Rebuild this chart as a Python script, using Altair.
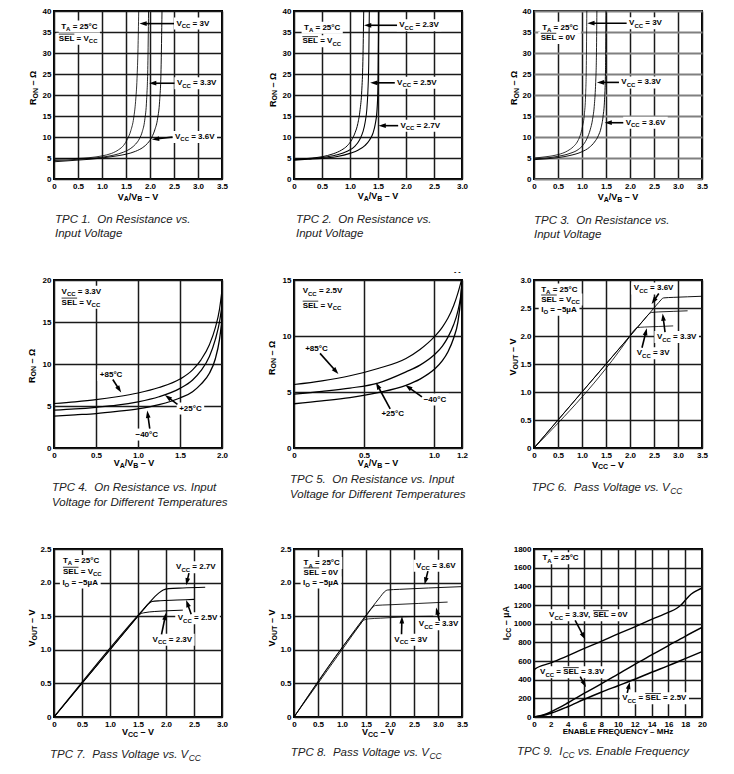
import math
import altair as alt
import pandas as pd

FONT = "Liberation Sans"
PW = 168
PH = 168
THIN, MED, THICK = 0.8, 1.5, 2.3

# ---------------- TPC 1 : R_ON vs V_A/V_B ----------------
tpc1_x_3v0 = [0, 0.25, 0.5, 0.75, 1.0, 1.2, 1.35, 1.45, 1.53, 1.6, 1.66, 1.7, 1.73, 1.75, 1.765]
tpc1_r_3v0 = [4.7, 4.8, 4.9, 5.1, 5.5, 6.1, 7.0, 8.0, 9.5, 11.5, 14.5, 18.5, 24, 31, 40]
tpc1_x_3v3 = [0, 0.25, 0.5, 0.75, 1.0, 1.25, 1.45, 1.6, 1.7, 1.78, 1.84, 1.89, 1.93, 1.955, 1.97]
tpc1_r_3v3 = [4.4, 4.5, 4.7, 4.9, 5.2, 5.7, 6.4, 7.3, 8.3, 9.6, 11.3, 14, 19, 27, 40]
tpc1_x_3v6 = [0, 0.25, 0.5, 0.75, 1.0, 1.25, 1.5, 1.7, 1.85, 1.95, 2.04, 2.1, 2.16, 2.2, 2.23, 2.25]
tpc1_r_3v6 = [4.1, 4.3, 4.5, 4.7, 5.0, 5.4, 5.9, 6.6, 7.5, 8.5, 10, 11.7, 14.5, 18.5, 26, 40]

# ---------------- TPC 2 ----------------
tpc2_x_2v3 = [0, 0.25, 0.5, 0.7, 0.85, 0.95, 1.03, 1.09, 1.14, 1.18, 1.21, 1.23, 1.245]
tpc2_r_2v3 = [4.7, 4.9, 5.3, 6.0, 6.9, 7.9, 9.3, 11, 13.2, 16.5, 21, 28, 40]
tpc2_x_2v5 = [0, 0.25, 0.5, 0.75, 0.95, 1.08, 1.17, 1.23, 1.27, 1.3, 1.32, 1.335, 1.345]
tpc2_r_2v5 = [4.6, 4.8, 5.1, 5.7, 6.6, 7.7, 9.3, 11.2, 13.5, 16.5, 21, 28, 40]
tpc2_x_2v7 = [0, 0.25, 0.5, 0.75, 1.0, 1.15, 1.27, 1.35, 1.41, 1.45, 1.48, 1.5, 1.515]
tpc2_r_2v7 = [4.5, 4.7, 4.9, 5.3, 6.1, 6.9, 8.0, 9.3, 10.9, 13, 16, 22, 40]

# ---------------- TPC 3 ----------------
tpc3_x_3v0 = [0, 0.25, 0.5, 0.7, 0.82, 0.9, 0.96, 1.01, 1.05, 1.075, 1.09, 1.1]
tpc3_r_3v0 = [5.0, 5.3, 5.8, 6.7, 7.7, 8.8, 10.3, 12.5, 15.5, 20, 27, 40]
tpc3_x_3v3 = [0, 0.25, 0.5, 0.75, 0.92, 1.03, 1.11, 1.17, 1.22, 1.26, 1.285, 1.3, 1.31]
tpc3_r_3v3 = [4.8, 5.0, 5.4, 6.1, 7.0, 8.2, 9.8, 11.7, 14.2, 18, 23, 29, 40]
tpc3_x_3v6 = [0, 0.25, 0.5, 0.75, 1.0, 1.15, 1.26, 1.34, 1.4, 1.44, 1.47, 1.49, 1.5]
tpc3_r_3v6 = [4.6, 4.8, 5.1, 5.6, 6.5, 7.5, 8.8, 10.3, 12.3, 15, 19, 26, 40]

# ---------------- TPC 4 : temperatures, VCC = 3.3V ----------------
tpc4_x = [0, 0.25, 0.5, 0.75, 1.0, 1.25, 1.5, 1.65, 1.75, 1.85, 1.92, 1.97, 2.0]
tpc4_r_p85 = [5.3, 5.5, 5.75, 6.1, 6.55, 7.2, 8.2, 9.3, 10.5, 12.3, 14.3, 16.5, 18.8]
tpc4_r_p25 = [4.5, 4.65, 4.85, 5.1, 5.5, 6.1, 7.1, 8.1, 9.2, 10.9, 12.9, 15.0, 17.0]
tpc4_r_m40 = [3.8, 3.95, 4.1, 4.35, 4.65, 5.15, 5.95, 6.7, 7.6, 8.9, 10.6, 12.9, 15.3]

# ---------------- TPC 5 : temperatures, VCC = 2.5V ----------------
tpc5_x = [0, 0.2, 0.4, 0.6, 0.8, 0.9, 1.0, 1.06, 1.1, 1.14, 1.17, 1.19, 1.2]
tpc5_r_p85 = [5.67, 6.0, 6.45, 7.1, 8.0, 8.8, 9.9, 10.8, 11.6, 12.7, 13.8, 14.7, 15.2]
tpc5_r_p25 = [4.8, 5.05, 5.35, 5.8, 6.8, 7.4, 8.3, 9.1, 9.9, 11.0, 12.2, 13.5, 14.6]
tpc5_r_m40 = [3.95, 4.2, 4.5, 4.95, 5.6, 6.15, 7.0, 7.8, 8.6, 9.8, 11.2, 13.2, 15.0]

# ---------------- TPC 6 : pass voltage, SEL = VCC ----------------
tpc6_x_3v0 = [0, 2.0, 2.08, 2.15, 2.3, 2.6, 2.9]
tpc6_v_3v0 = [0, 2.0, 2.1, 2.15, 2.16, 2.17, 2.18]
tpc6_x_3v3 = [0, 2.3, 2.38, 2.45, 2.6, 2.9, 3.2]
tpc6_v_3v3 = [0, 2.3, 2.38, 2.42, 2.43, 2.44, 2.45]
tpc6_x_3v6 = [0, 2.5, 2.6, 2.7, 2.9, 3.2, 3.5]
tpc6_v_3v6 = [0, 2.5, 2.6, 2.68, 2.69, 2.70, 2.71]

# ---------------- TPC 7 ----------------
tpc7_x_2v3 = [0, 1.45, 1.52, 1.6, 1.8, 2.0, 2.3]
tpc7_v_2v3 = [0, 1.45, 1.52, 1.55, 1.57, 1.58, 1.59]
tpc7_x_2v5 = [0, 1.6, 1.68, 1.75, 1.9, 2.2, 2.5]
tpc7_v_2v5 = [0, 1.6, 1.68, 1.72, 1.73, 1.74, 1.75]
tpc7_x_2v7 = [0, 1.7, 1.8, 1.88, 1.95, 2.05, 2.3, 2.7]
tpc7_v_2v7 = [0, 1.7, 1.79, 1.85, 1.89, 1.91, 1.92, 1.93]

# ---------------- TPC 8 ----------------
tpc8_x_3v0 = [0, 1.38, 1.45, 1.55, 1.8, 2.3, 2.9]
tpc8_v_3v0 = [0, 1.38, 1.44, 1.46, 1.47, 1.49, 1.50]
tpc8_x_3v3 = [0, 1.52, 1.6, 1.7, 2.0, 2.6, 3.2]
tpc8_v_3v3 = [0, 1.52, 1.6, 1.66, 1.67, 1.69, 1.71]
tpc8_x_3v6 = [0, 1.7, 1.8, 1.88, 1.95, 2.2, 2.8, 3.5]
tpc8_v_3v6 = [0, 1.7, 1.79, 1.86, 1.89, 1.9, 1.92, 1.94]

# ---------------- TPC 9 : ICC vs enable frequency ----------------
tpc9_f_sel0 = [0, 0.06, 2, 4, 6, 8, 10, 12, 14, 16, 17, 17.5, 18, 18.5, 19, 19.5, 20]
tpc9_i_sel0 = [80, 510, 580, 655, 735, 810, 890, 965, 1045, 1120, 1165, 1200, 1250, 1300, 1335, 1360, 1380]
tpc9_f_33 = [0, 1, 2, 3, 4, 6, 8, 10, 12, 14, 16, 18, 20]
tpc9_i_33 = [0, 20, 55, 100, 150, 255, 355, 460, 565, 665, 765, 865, 960]
tpc9_f_25 = [0, 1, 2, 4, 6, 8, 10, 12, 14, 16, 18, 20]
tpc9_i_25 = [0, 15, 40, 110, 190, 265, 335, 405, 480, 550, 625, 700]

# ---------------- tick values ----------------
ticks_0_35 = [0, 0.5, 1.0, 1.5, 2.0, 2.5, 3.0, 3.5]
ticks_0_30 = [0, 0.5, 1.0, 1.5, 2.0, 2.5, 3.0]
ticks_0_20 = [0, 0.5, 1.0, 1.5, 2.0]
ticks_0_12 = [0, 0.5, 1.0, 1.2]
ticks_r40 = [0, 5, 10, 15, 20, 25, 30, 35, 40]
ticks_r20 = [0, 5, 10, 15, 20]
ticks_r15 = [0, 5, 10, 15]
ticks_v30 = [0, 0.5, 1.0, 1.5, 2.0, 2.5, 3.0]
ticks_v25 = [0, 0.5, 1.0, 1.5, 2.0, 2.5]
ticks_f = [0, 2, 4, 6, 8, 10, 12, 14, 16, 18, 20]
ticks_i = [0, 200, 400, 600, 800, 1000, 1200, 1400, 1600, 1800]

# ---------------- font metrics (Arial-compatible, per 1000 em) ----------------
BW = {' ': 278, '+': 584, ',': 278, '-': 333, '.': 278, '/': 278, '=': 584,
      '°': 400, '–': 556, '−': 584, 'µ': 611, 'Ω': 768, 'A': 722, 'B': 722, 'C': 722,
      'D': 722, 'E': 667, 'F': 611, 'G': 778, 'H': 722, 'I': 278, 'K': 722, 'L': 611,
      'M': 833, 'N': 722, 'O': 778, 'P': 667, 'Q': 778, 'R': 722, 'S': 667, 'T': 611,
      'U': 722, 'V': 667, 'Y': 667, 'Z': 611, 'z': 500}
RW = {' ': 278, '.': 278, 'T': 611, 'P': 667, 'C': 722, 'O': 778, 'R': 722,
      'I': 278, 'V': 667, 'D': 722, 'E': 667, 'F': 611, 'n': 556, 'e': 556, 's': 500,
      'i': 222, 't': 278, 'a': 556, 'c': 500, 'v': 500, 'p': 556, 'u': 556, 'o': 556,
      'l': 222, 'g': 556, 'f': 278, 'r': 333, 'm': 833, 'b': 556, 'q': 556, 'y': 500}


def tw(s, size, table):
    return sum(table.get(c, 556) for c in s) * size / 1000.0


def rich(ax, ay, segs, size, sub, table, sx, sy, align="left", dx0=0.0, dy0=0.0, angle=0):
    """Lay out a run of text segments (normal / subscript / overlined).
    Leading/trailing blanks are not drawn but advance the pen.
    Pixel offsets are turned into data offsets (sx, sy = data units per pixel)."""
    shift = size * 0.3
    ws = [tw(t, sub if k == "s" else size, table) for t, k in segs]
    total = sum(ws)
    start = -total / 2.0 if align == "center" else 0.0
    rows, overs = [], []
    off = start
    for (t, k), w in zip(segs, ws):
        fs = sub if k == "s" else size
        sh = shift if k == "s" else 0.0
        lead = len(t) - len(t.lstrip(" "))
        pen = off + tw(" " * lead, fs, table)
        if angle == 0:
            dx, dy = dx0 + pen, dy0 + sh
        else:
            dx, dy = dx0 + sh, dy0 - pen
        rows.append(dict(x=ax + dx * sx, y=ay - dy * sy, fs=fs, ang=angle, t=t.strip(" ")))
        if k == "o":
            overs.append((off, off + w))
        off += w
    return rows, overs, (start, start + total)


def vcc(v):
    return [("V", "n"), ("CC", "s"), (" = " + v, "n")]


TA = [("T", "n"), ("A", "s"), (" = 25°C", "n")]
SEL_VCC = [("SEL", "o"), (" = V", "n"), ("CC", "s")]
SEL_0V = [("SEL", "o"), (" = 0V", "n")]
IO = [("I", "n"), ("O", "s"), (" = −5µA", "n")]
VCC33 = [("V", "n"), ("CC", "s"), (" = 3.3V", "n")]
VCC25 = [("V", "n"), ("CC", "s"), (" = 2.5V", "n")]
RON = [("R", "n"), ("ON", "s"), (" – Ω", "n")]
VOUT = [("V", "n"), ("OUT", "s"), (" – V", "n")]
ICC = [("I", "n"), ("CC", "s"), (" – µA", "n")]
VAVB = [("V", "n"), ("A", "s"), ("/V", "n"), ("B", "s"), (" – V", "n")]
VCCX = [("V", "n"), ("CC", "s"), (" – V", "n")]
FREQX = [("ENABLE FREQUENCY – MHz", "n")]

FMT1 = "datum.value == 0 ? '0' : format(datum.value, '.1f')"
FMTD = "format(datum.value, 'd')"


def panel(P):
    xmax, ymax = P["xmax"], P["ymax"]
    sx, sy = xmax / PW, ymax / PH
    xs = alt.Scale(domain=[0, xmax], nice=False, zero=False)
    ys = alt.Scale(domain=[0, ymax], nice=False, zero=False)
    common = dict(domain=False, ticks=False, title=None, labelFont=FONT, labelFontSize=8,
                  labelFontWeight="bold", labelColor="black", labelPadding=3,
                  labelOverlap=False, labelFlush=False, grid=True)
    xaxis = alt.Axis(values=P["xticks"], labelExpr=P["xfmt"], gridColor=P.get("vgc", "#1a1a1a"),
                     gridWidth=P.get("vgw", 1.5), **common)
    yaxis = alt.Axis(values=P["yticks"], labelExpr=P["yfmt"], gridColor=P.get("hgc", "#1a1a1a"),
                     gridWidth=P.get("hgw", 1.5), **common)

    def X(f):
        return alt.X(f, type="quantitative", scale=xs, axis=xaxis)

    def Y(f):
        return alt.Y(f, type="quantitative", scale=ys, axis=yaxis)

    rows, names, widths = [], [], []
    for name, xv, yv, w in P["series"]:
        names.append(name)
        widths.append(w)
        for i, (a, b) in enumerate(zip(xv, yv)):
            rows.append(dict(x=a, y=b, s=name, o=i))
    lines = alt.Chart(pd.DataFrame(rows)).mark_line(
        color="black", clip=True, interpolate="monotone"
    ).encode(
        x=X("x"), y=Y("y"), detail="s:N", order="o:Q",
        strokeWidth=alt.StrokeWidth("s:N", scale=alt.Scale(domain=names, range=widths), legend=None),
    )

    text_rows, over_rows, box_rows, cap_rows, title_rows = [], [], [], [], []
    for ax, ay, segs, align in P["notes"]:
        r, overs, (s, e) = rich(ax, ay, segs, 8, 6, BW, sx, sy, align)
        text_rows += r
        for o1, o2 in overs:
            over_rows.append(dict(x1=ax + o1 * sx, x2=ax + o2 * sx, y=ay + 4.6 * sy))
        box_rows.append(dict(x1=ax + (s - 2.5) * sx, x2=ax + (e + 2.5) * sx,
                             y1=ay - 6 * sy, y2=ay + 6 * sy))
    for ex in P.get("extra", []):
        text_rows.append(dict(x=xmax + ex[0] * sx, y=ymax - ex[1] * sy, fs=7, ang=0, t=ex[2]))
    r, _, _ = rich(0, ymax, P["ytitle"], 9, 7, BW, sx, sy, "center", P["ytx"], P["yty"], 270)
    title_rows += r
    r, _, _ = rich(0, 0, P["xtitle"], P.get("xts", 9), 7, BW, sx, sy, "center",
                   PW / 2 + P.get("xtoff", 0), P["xtdy"])
    title_rows += r
    for segs, cdx, cbase in P["caption"]:
        r, _, _ = rich(0, 0, segs, 11.5, 8.5, RW, sx, sy, "left", cdx, cbase - PH)
        cap_rows += r

    arr_rows = []
    for tx, ty, hx, hy in P["arrows"]:
        dxp = (hx - tx) / sx
        dyp = -(hy - ty) / sy
        L = math.hypot(dxp, dyp)
        ux, uy = dxp / L, dyp / L
        ang = math.degrees(math.atan2(dyp, dxp)) % 360
        arr_rows.append(dict(x=tx, y=ty, x2=hx - 4 * ux * sx, y2=hy + 4 * uy * sy,
                             hx=hx, hy=hy, ang=ang))

    boxes = alt.Chart(pd.DataFrame(box_rows)).mark_rect(color="white").encode(
        x=X("x1"), x2="x2", y=Y("y1"), y2="y2")
    overl = alt.Chart(pd.DataFrame(over_rows)).mark_rule(color="black", strokeWidth=0.8).encode(
        x=X("x1"), x2="x2", y=Y("y"))
    arr = pd.DataFrame(arr_rows)
    shafts = alt.Chart(arr).mark_rule(color="black", strokeWidth=1.6).encode(
        x=X("x"), y=Y("y"), x2="x2", y2="y2")
    heads = alt.Chart(arr).mark_point(
        shape="M0,0L-2.3,-0.75L-2.3,0.75Z", filled=True, size=40, color="black", opacity=1
    ).encode(x=X("hx"), y=Y("hy"), angle=alt.Angle("ang:Q", scale=None))
    texts = alt.Chart(pd.DataFrame(text_rows)).mark_text(
        font=FONT, fontWeight="bold", align="left", baseline="middle", color="black"
    ).encode(x=X("x"), y=Y("y"), text="t:N", size=alt.Size("fs:Q", scale=None),
             angle=alt.Angle("ang:Q", scale=None))
    titles = alt.Chart(pd.DataFrame(title_rows)).mark_text(
        font=FONT, fontWeight="bold", align="left", baseline="middle", color="black"
    ).encode(x=X("x"), y=Y("y"), text="t:N", size=alt.Size("fs:Q", scale=None),
             angle=alt.Angle("ang:Q", scale=None))
    caps = alt.Chart(pd.DataFrame(cap_rows)).mark_text(
        font=FONT, fontStyle="italic", align="left", baseline="alphabetic", color="#222222"
    ).encode(x=X("x"), y=Y("y"), text="t:N", size=alt.Size("fs:Q", scale=None))
    return alt.layer(boxes, lines, overl, shafts, heads, texts, titles, caps).properties(
        width=PW, height=PH)


panels = [
    dict(xmax=3.5, ymax=40, xticks=ticks_0_35, yticks=ticks_r40, xfmt=FMT1, yfmt=FMTD,
         series=[("3V", tpc1_x_3v0, tpc1_r_3v0, THIN), ("3.3V", tpc1_x_3v3, tpc1_r_3v3, MED),
                 ("3.6V", tpc1_x_3v6, tpc1_r_3v6, THICK)],
         notes=[(0.15, 36.3, TA, "left"), (0.1, 33.4, SEL_VCC, "left"),
                (2.55, 37.0, vcc("3V"), "left"), (2.56, 22.8, vcc("3.3V"), "left"),
                (2.52, 10.0, vcc("3.6V"), "left")],
         arrows=[(2.5, 37.0, 1.78, 37.0), (2.51, 22.8, 1.98, 22.8), (2.47, 10.0, 2.04, 9.4)],
         ytitle=RON, ytx=-21, yty=77, xtitle=VAVB, xtdy=17.5,
         caption=[([("TPC 1.", "n"), ("  On Resistance vs.", "n")], 1, 212), ([("Input Voltage", "n")], 1, 226)]),
    dict(xmax=3.0, ymax=40, xticks=ticks_0_30, yticks=ticks_r40, xfmt=FMT1, yfmt=FMTD,
         series=[("2.3V", tpc2_x_2v3, tpc2_r_2v3, THIN), ("2.5V", tpc2_x_2v5, tpc2_r_2v5, MED),
                 ("2.7V", tpc2_x_2v7, tpc2_r_2v7, THICK)],
         notes=[(0.18, 36.0, TA, "left"), (0.15, 32.8, SEL_VCC, "left"),
                (1.88, 36.6, vcc("2.3V"), "left"), (1.84, 22.9, vcc("2.5V"), "left"),
                (1.9, 12.7, vcc("2.7V"), "left")],
         arrows=[(1.84, 36.6, 1.25, 36.6), (1.8, 22.9, 1.36, 22.9), (1.86, 12.7, 1.51, 12.7)],
         ytitle=RON, ytx=-21.5, yty=79, xtitle=VAVB, xtdy=17.3,
         caption=[([("TPC 2.", "n"), ("  On Resistance vs.", "n")], 2, 212), ([("Input Voltage", "n")], 2, 226)]),
    dict(xmax=3.5, ymax=40, xticks=ticks_0_35, yticks=ticks_r40, xfmt=FMT1, yfmt=FMTD,
         hgc="#808080", hgw=2,
         series=[("3V", tpc3_x_3v0, tpc3_r_3v0, THIN), ("3.3V", tpc3_x_3v3, tpc3_r_3v3, MED),
                 ("3.6V", tpc3_x_3v6, tpc3_r_3v6, THICK)],
         notes=[(0.17, 36.0, TA, "left"), (0.14, 33.6, SEL_0V, "left"),
                (1.98, 37.1, vcc("3V"), "left"), (1.82, 23.0, vcc("3.3V"), "left"),
                (1.91, 13.4, vcc("3.6V"), "left")],
         arrows=[(1.93, 37.1, 1.11, 37.1), (1.77, 23.0, 1.31, 23.0), (1.86, 13.4, 1.47, 13.4)],
         ytitle=RON, ytx=-20, yty=77, xtitle=VAVB, xtdy=18,
         caption=[([("TPC 3.", "n"), ("  On Resistance vs.", "n")], 0, 212.5), ([("Input Voltage", "n")], 0, 226.5)]),
    dict(xmax=2.0, ymax=20, xticks=ticks_0_20, yticks=ticks_r20, xfmt=FMT1, yfmt=FMTD,
         series=[("+85", tpc4_x, tpc4_r_p85, THICK), ("+25", tpc4_x, tpc4_r_p25, MED),
                 ("-40", tpc4_x, tpc4_r_m40, THIN)],
         notes=[(0.09, 18.6, VCC33, "left"), (0.09, 17.3, SEL_VCC, "left"),
                (0.68, 8.7, [("+85°C", "n")], "center"), (1.49, 4.7, [("+25°C", "n")], "left"),
                (0.97, 1.6, [("−40°C", "n")], "left")],
         arrows=[(0.70, 8.15, 0.80, 6.6), (1.47, 5.2, 1.32, 6.3), (1.14, 2.3, 1.11, 4.45)],
         ytitle=RON, ytx=-22.4, yty=86, xtitle=VAVB, xtdy=15, xtoff=-4,
         caption=[([("TPC 4.", "n"), ("  On Resistance vs. Input", "n")], -2, 211),
                  ([("Voltage for Different Temperatures", "n")], -2, 226)]),
    dict(xmax=1.2, ymax=15, xticks=ticks_0_12, yticks=ticks_r15, xfmt=FMT1, yfmt=FMTD,
         series=[("+85", tpc5_x, tpc5_r_p85, THICK), ("+25", tpc5_x, tpc5_r_p25, MED),
                 ("-40", tpc5_x, tpc5_r_m40, THIN)],
         notes=[(0.062, 14.0, VCC25, "left"), (0.062, 12.7, SEL_VCC, "left"),
                (0.16, 8.8, [("+85°C", "n")], "center"), (0.705, 3.0, [("+25°C", "n")], "center"),
                (0.926, 4.32, [("−40°C", "n")], "left")],
         arrows=[(0.186, 8.45, 0.317, 6.6), (0.687, 3.5, 0.585, 5.85), (0.914, 4.56, 0.795, 5.62)],
         ytitle=RON, ytx=-22.4, yty=78, xtitle=VAVB, xtdy=15,
         extra=[(-8, -8, "- -")],
         caption=[([("TPC 5.", "n"), ("  On Resistance vs. Input", "n")], -4, 203),
                  ([("Voltage for Different Temperatures", "n")], -4, 218)]),
    dict(xmax=3.5, ymax=3.0, xticks=ticks_0_35, yticks=ticks_v30, xfmt=FMT1, yfmt=FMT1,
         series=[("3V", tpc6_x_3v0, tpc6_v_3v0, THICK), ("3.3V", tpc6_x_3v3, tpc6_v_3v3, MED),
                 ("3.6V", tpc6_x_3v6, tpc6_v_3v6, THIN)],
         notes=[(0.15, 2.83, TA, "left"), (0.15, 2.65, SEL_VCC, "left"), (0.15, 2.47, IO, "left"),
                (2.08, 2.85, vcc("3.6V"), "left"), (2.56, 1.98, vcc("3.3V"), "left"),
                (2.14, 1.69, vcc("3V"), "left")],
         arrows=[(2.6, 2.76, 2.45, 2.57), (2.73, 2.07, 2.68, 2.40), (2.25, 1.79, 2.35, 2.14)],
         ytitle=VOUT, ytx=-21, yty=77, xtitle=VCCX, xtdy=16.5, xtoff=-10,
         caption=[([("TPC 6.", "n"), ("  Pass Voltage vs. V", "n"), ("CC", "s")], -2.5, 211)]),
    dict(xmax=3.0, ymax=2.5, xticks=ticks_0_30, yticks=ticks_v25, xfmt=FMT1, yfmt=FMT1,
         series=[("2.3V", tpc7_x_2v3, tpc7_v_2v3, THICK), ("2.5V", tpc7_x_2v5, tpc7_v_2v5, MED),
                 ("2.7V", tpc7_x_2v7, tpc7_v_2v7, THIN)],
         notes=[(0.16, 2.32, TA, "left"), (0.16, 2.16, SEL_VCC, "left"), (0.15, 2.0, IO, "left"),
                (2.18, 2.23, vcc("2.7V"), "left"), (2.21, 1.47, vcc("2.5V"), "left"),
                (1.76, 1.15, vcc("2.3V"), "left")],
         arrows=[(2.41, 2.14, 2.36, 1.96), (2.45, 1.53, 2.36, 1.74), (1.92, 1.23, 2.0, 1.55)],
         ytitle=VOUT, ytx=-21.7, yty=79, xtitle=VCCX, xtdy=15,
         caption=[([("TPC 7.", "n"), ("  Pass Voltage vs. V", "n"), ("CC", "s")], -4, 209)]),
    dict(xmax=3.5, ymax=2.5, xticks=ticks_0_35, yticks=ticks_v25, xfmt=FMT1, yfmt=FMT1,
         series=[("3V", tpc8_x_3v0, tpc8_v_3v0, THICK), ("3.3V", tpc8_x_3v3, tpc8_v_3v3, MED),
                 ("3.6V", tpc8_x_3v6, tpc8_v_3v6, THIN)],
         notes=[(0.2, 2.29, TA, "left"), (0.2, 2.15, SEL_0V, "left"), (0.19, 2.0, IO, "left"),
                (2.54, 2.25, vcc("3.6V"), "left"), (2.6, 1.38, vcc("3.3V"), "left"),
                (2.09, 1.15, vcc("3V"), "left")],
         arrows=[(2.79, 2.17, 2.72, 1.97), (3.03, 1.43, 2.96, 1.63), (2.24, 1.23, 2.25, 1.5)],
         ytitle=VOUT, ytx=-21.7, yty=79, xtitle=VCCX, xtdy=15,
         caption=[([("TPC 8.", "n"), ("  Pass Voltage vs. V", "n"), ("CC", "s")], -3.3, 207)]),
    dict(xmax=20, ymax=1800, xticks=ticks_f, yticks=ticks_i, xfmt=FMTD, yfmt=FMTD,
         series=[("sel0", tpc9_f_sel0, tpc9_i_sel0, 2.0), ("3.3", tpc9_f_33, tpc9_i_33, 2.0),
                 ("2.5", tpc9_f_25, tpc9_i_25, 1.8)],
         notes=[(1.0, 1700, TA, "left"),
                (1.8, 1090, [("V", "n"), ("CC", "s"), (" = 3.3V, ", "n"), ("SEL", "o"), (" = 0V", "n")], "left"),
                (0.72, 480, [("V", "n"), ("CC", "s"), (" = ", "n"), ("SEL", "o"), (" = 3.3V", "n")], "left"),
                (10.5, 202, [("V", "n"), ("CC", "s"), (" = ", "n"), ("SEL", "o"), (" = 2.5V", "n")], "left")],
         arrows=[(4.9, 1035, 6.1, 830), (5.5, 433, 6.2, 320), (11.1, 258, 11.4, 375)],
         ytitle=ICC, ytx=-28, yty=74, xtitle=FREQX, xts=8, xtdy=15,
         caption=[([("TPC 9.", "n"), ("  I", "n"), ("CC", "s"), (" vs. Enable Frequency", "n")], -17, 206)]),
]

charts = [panel(P) for P in panels]

chart = alt.concat(
    *charts, columns=3, spacing=alt.RowColnumber(row=101, column=72), bounds="flush"
).properties(
    padding={"left": 18, "top": -2, "right": 0, "bottom": 0}
).configure_view(stroke="black", strokeWidth=2)

chart.save("out.html", embed_options={"renderer": "svg", "actions": False})
